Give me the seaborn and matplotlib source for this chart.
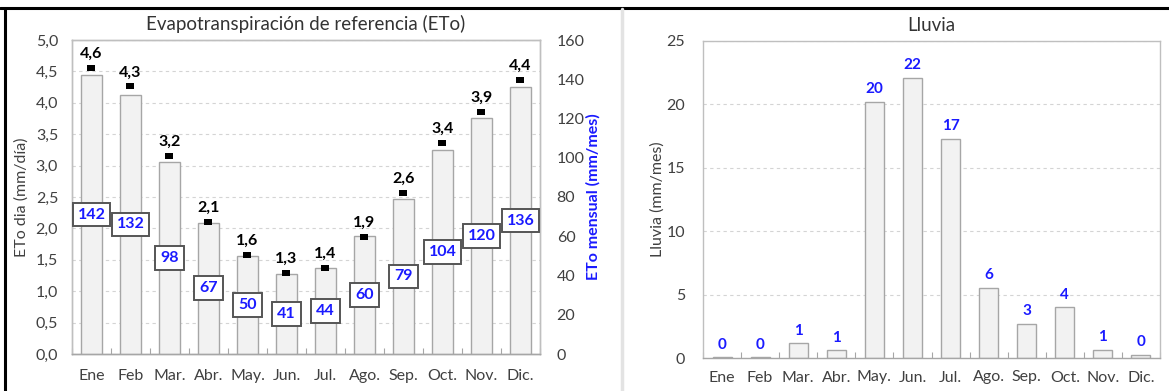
import numpy as np
import matplotlib
matplotlib.use("Agg")
import matplotlib.pyplot as plt
from matplotlib.lines import Line2D
from matplotlib.ticker import MultipleLocator, FixedLocator, FuncFormatter, NullFormatter
import seaborn as sns

# Monthly data
meses = ["Ene", "Feb", "Mar.", "Abr.", "May.", "Jun.", "Jul.", "Ago.", "Sep.", "Oct.", "Nov.", "Dic."]
eto_mensual = [142, 132, 98, 67, 50, 41, 44, 60, 79, 104, 120, 136]          # mm/mes
eto_diaria = [4.56, 4.26, 3.16, 2.10, 1.58, 1.29, 1.37, 1.87, 2.56, 3.36, 3.86, 4.36]  # mm/día
lluvia = [0.05, 0.05, 1.15, 0.6, 20.2, 22.1, 17.3, 5.55, 2.7, 4.0, 0.65, 0.25]  # mm/mes

sns.set_theme(style="white")
plt.rcParams["font.family"] = ["Lato", "DejaVu Sans"]

W, H = 1169, 391
TXT = "#404040"
BLUE = "#1a1aff"
BAR_FC = "#f2f2f2"
BAR_EC = "#a6a6a6"
FRAME = "#bfbfbf"
GRID = "#d4d4d4"
FS = 11.5

fig = plt.figure(figsize=(W / 100, H / 100), dpi=100)
fig.patch.set_facecolor("white")


def px_axes(left, top, right, bottom):
    return [left / W, 1 - bottom / H, (right - left) / W, (bottom - top) / H]


comma1 = FuncFormatter(lambda v, p: f"{v:.1f}".replace(".", ","))
pos = np.arange(len(meses))


def style_frame(a):
    for s in a.spines.values():
        s.set_color(FRAME)
        s.set_linewidth(1.0)
    a.spines["bottom"].set_color(BAR_EC)


# ---------------- Evapotranspiración ----------------
ax = fig.add_axes(px_axes(72, 40, 540, 354))
ax.set_facecolor("white")
ax2 = ax.twinx()
sns.barplot(x=meses, y=eto_mensual, ax=ax2, color=BAR_FC, saturation=1,
            edgecolor=BAR_EC, linewidth=1.0, width=0.52)
ax3 = ax.twinx()

ax.set_ylim(0, 5)
ax3.set_ylim(0, 5)
ax2.set_ylim(0, 160)
ax.set_xlim(-0.5, 11.5)

ax.yaxis.set_major_locator(MultipleLocator(0.5))
ax.yaxis.set_major_formatter(comma1)
ax.grid(axis="y", linestyle=(0, (3, 3)), color=GRID, linewidth=0.8)
ax.grid(axis="x", visible=False)
ax2.grid(False)
ax2.yaxis.set_major_locator(MultipleLocator(20))

ax.set_xticks(pos)
ax.set_xticklabels(meses)
ax.xaxis.set_minor_locator(FixedLocator(np.arange(-0.5, 12, 1)))
ax.xaxis.set_minor_formatter(NullFormatter())
ax.tick_params(axis="x", which="major", length=0, pad=11, labelsize=FS, labelcolor=TXT)
ax.tick_params(axis="x", which="minor", direction="in", length=4, width=0.8, color=BAR_EC, bottom=True)
ax.tick_params(axis="y", length=0, pad=10, labelsize=FS, labelcolor=TXT)
ax2.tick_params(axis="y", length=0, pad=12, labelsize=FS, labelcolor=TXT)

ax.set_ylabel("ETo dia (mm/día)", fontsize=FS, color=TXT)
ax.yaxis.set_label_coords(-0.092, 0.5)
ax2.set_ylabel("ETo mensual (mm/mes)", fontsize=FS, color=BLUE, fontweight="bold")
ax2.yaxis.set_label_coords(1.098, 0.5)
ax.set_xlabel("")
ax2.set_xlabel("")
ax.set_title("Evapotranspiración de referencia (ETo)", fontsize=13.5, color="#333333", pad=7)

style_frame(ax)
style_frame(ax2)

# monthly totals inside boxes at mid-height of each bar
for i, v in enumerate(eto_mensual):
    ax2.text(i, v / 2, f"{v:d}", ha="center", va="center", color=BLUE,
             fontsize=FS, fontweight="bold",
             bbox=dict(boxstyle="square,pad=0.3", fc="white", ec="#555555", lw=1.4))

# daily ETo markers and labels
rect = [(-1, -0.7), (1, -0.7), (1, 0.7), (-1, 0.7)]
sns.scatterplot(x=pos, y=eto_diaria, ax=ax3, marker=rect, s=40, color="black",
                linewidth=0, legend=False)
ax3.set_ylim(0, 5)
ax3.set_xlim(-0.5, 11.5)
ax3.axis("off")
for i, v in enumerate(eto_diaria):
    ax3.annotate(f"{v:.1f}".replace(".", ","), (i, v), xytext=(0, 5),
                 textcoords="offset points", ha="center", va="bottom",
                 fontsize=FS, fontweight="bold", color="black")

# ---------------- Lluvia ----------------
axr = fig.add_axes(px_axes(703, 41, 1160, 358))
axr.set_facecolor("white")
sns.barplot(x=meses, y=lluvia, ax=axr, color=BAR_FC, saturation=1,
            edgecolor=BAR_EC, linewidth=1.0, width=0.5)
axr.set_ylim(0, 25)
axr.set_xlim(-0.5, 11.5)
axr.set_axisbelow(True)
axr.yaxis.set_major_locator(MultipleLocator(5))
axr.grid(axis="y", linestyle=(0, (3, 3)), color=GRID, linewidth=0.8)
axr.grid(axis="x", visible=False)
axr.set_xticks(pos)
axr.set_xticklabels(meses)
axr.xaxis.set_minor_locator(FixedLocator(np.arange(-0.5, 12, 1)))
axr.xaxis.set_minor_formatter(NullFormatter())
axr.tick_params(axis="x", which="major", length=0, pad=9, labelsize=FS, labelcolor=TXT)
axr.tick_params(axis="x", which="minor", direction="in", length=4, width=0.8, color=BAR_EC, bottom=True)
axr.tick_params(axis="y", length=0, pad=13, labelsize=FS, labelcolor=TXT)
axr.set_xlabel("")
axr.set_ylabel("Lluvia (mm/mes)", fontsize=FS, color=TXT)
axr.yaxis.set_label_coords(-0.083, 0.5)
axr.set_title("Lluvia", fontsize=13.5, color="#333333", pad=7)
style_frame(axr)

for i, v in enumerate(lluvia):
    axr.annotate(f"{v:.0f}", (i, v), xytext=(0, 4), textcoords="offset points",
                 ha="center", va="bottom", fontsize=11, fontweight="bold", color=BLUE)

# page frame lines
fig.add_artist(Line2D([0, 1], [1 - 8 / H] * 2, color="black", lw=2.2))
fig.add_artist(Line2D([5 / W] * 2, [0, 1 - 8 / H], color="black", lw=2.2))
fig.add_artist(Line2D([622 / W] * 2, [0, 1 - 9 / H], color="#e3e3e3", lw=2.5))

fig.savefig("out.png", dpi=100, facecolor="white")
